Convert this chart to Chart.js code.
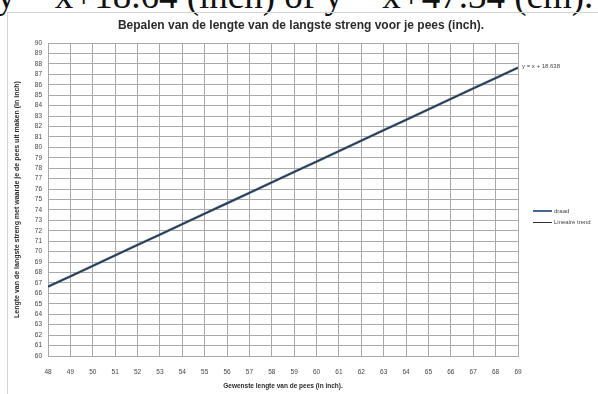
<!DOCTYPE html>
<html>
<head>
<meta charset="utf-8">
<script src="https://cdn.jsdelivr.net/npm/chart.js@4"></script>
<style>
  html, body { margin: 0; padding: 0; background: #fff; overflow: hidden; }
  #wrap { position: relative; width: 598px; height: 394px; }
  #caption {
    position: absolute; left: -3px; top: -26px; white-space: nowrap;
    font-family: "Liberation Serif", "DejaVu Serif", serif; font-size: 37px; color: #111;
  }
  #panel {
    position: absolute; left: 7px; top: 12px; width: 600px; height: 390px;
    border: 1px solid #d4d4d4; box-sizing: border-box;
  }
  canvas { position: absolute; left: 0; top: 0; }
</style>
</head>
<body>
<div id="wrap">
  <div id="caption">y = x+18.64 (inch) of y = x+47.34 (cm).</div>
  <div id="panel"></div>
  <canvas id="chart" width="598" height="394"></canvas>
</div>
<script>
// Lengte pees (inch) -> lengte langste streng, met lineaire trend.
const TITLE = "Bepalen van de lengte van de langste streng voor je pees (inch).";
const X_TITLE = "Gewenste lengte van de pees (in inch).";
const Y_TITLE = "Lengte van de langste streng met waarde je de pees uit maken (in inch)";
const TREND_LABEL = "y = x + 18.638";

const peesLengte = [48, 49, 50, 51, 52, 53, 54, 55, 56, 57, 58, 59, 60, 61, 62, 63, 64, 65, 66, 67, 68, 69];
const draad = [66.64, 67.64, 68.64, 69.64, 70.64, 71.64, 72.64, 73.64, 74.64, 75.64, 76.64,
               77.64, 78.64, 79.64, 80.64, 81.64, 82.64, 83.64, 84.64, 85.64, 86.64, 87.64];
const trendX = [48, 69];
const trendY = [66.638, 87.638];

const FONT = "'Liberation Sans', Arial, sans-serif";
const BLUE = "#46678f";
const GRID = "#a9a9a9";

// Titel, trendvergelijking en legenda zoals in Excel.
const extras = {
  id: "extras",
  afterDraw(c) {
    const ctx = c.ctx, a = c.chartArea;
    ctx.save();
    ctx.fillStyle = "#2b2b2b";
    ctx.font = "bold 12px " + FONT;
    ctx.textAlign = "center";
    ctx.textBaseline = "middle";
    ctx.fillText(TITLE, 301, 26);

    const yEnd = c.scales.y.getPixelForValue(trendY[1]);
    ctx.font = "6px " + FONT;
    ctx.textAlign = "left";
    ctx.fillStyle = "#444";
    ctx.fillText(TREND_LABEL, a.right + 4, yEnd - 1);

    ctx.lineWidth = 2; ctx.strokeStyle = BLUE;
    ctx.beginPath(); ctx.moveTo(533, 211); ctx.lineTo(552, 211); ctx.stroke();
    ctx.lineWidth = 1; ctx.strokeStyle = "#333";
    ctx.beginPath(); ctx.moveTo(533, 222.5); ctx.lineTo(552, 222.5); ctx.stroke();
    ctx.fillText("draad", 554, 211);
    ctx.fillText("Lineaire trend", 554, 222);
    ctx.restore();
  }
};

new Chart(document.getElementById("chart"), {
  type: "line",
  data: {
    datasets: [
      { label: "Lineaire trend", data: trendX.map((x, i) => ({ x, y: trendY[i] })),
        borderColor: "#2a2a2a", borderWidth: 1, pointRadius: 0, order: 0 },
      { label: "draad", data: peesLengte.map((x, i) => ({ x, y: draad[i] })),
        borderColor: BLUE, borderWidth: 2.5, pointRadius: 0, order: 1 },
    ],
  },
  options: {
    responsive: false,
    animation: false,
    layout: { padding: { top: 43, right: 80, left: 11, bottom: 0 } },
    plugins: { legend: { display: false }, title: { display: false }, tooltip: { enabled: false } },
    scales: {
      x: {
        type: "linear", min: 48, max: 69,
        ticks: { stepSize: 1, autoSkip: false, maxRotation: 0, color: "#444", font: { size: 6.5, family: FONT }, padding: 12 },
        grid: { color: GRID, drawTicks: false },
        border: { color: GRID },
        title: { display: true, text: X_TITLE, color: "#2b2b2b", font: { size: 6.5, weight: "bold", family: FONT }, padding: { top: 1 } },
        afterFit: (s) => { s.height = 38; },
      },
      y: {
        min: 60, max: 90,
        ticks: { stepSize: 1, autoSkip: false, color: "#444", font: { size: 6.5, family: FONT }, padding: 6 },
        grid: { color: GRID, drawTicks: false },
        border: { color: GRID },
        title: { display: true, text: Y_TITLE, color: "#2b2b2b", font: { size: 7, weight: "bold", family: FONT }, padding: 2 },
        afterFit: (s) => { s.width = 37; },
      },
    },
  },
  plugins: [extras],
});
</script>
</body>
</html>
